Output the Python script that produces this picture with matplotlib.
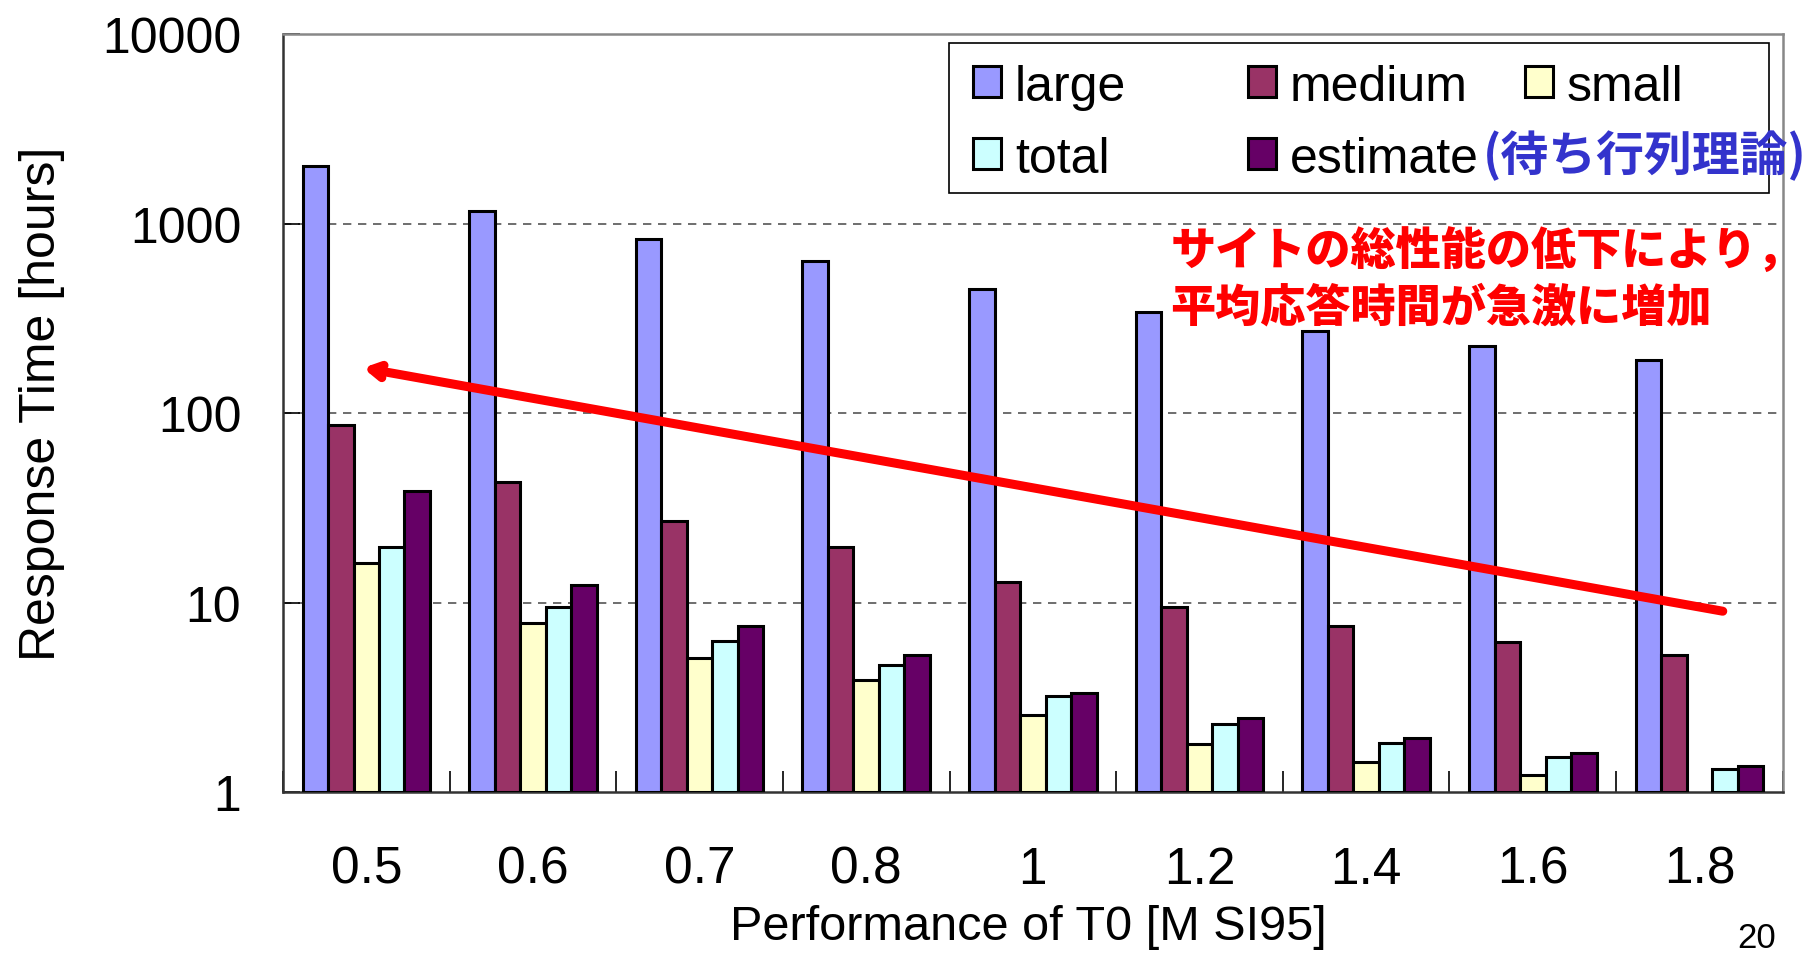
import numpy as np
import matplotlib
matplotlib.use("Agg")
import matplotlib.pyplot as plt
from matplotlib.patches import Rectangle

plt.rcParams['font.family'] = ['Liberation Sans', 'Noto Sans CJK JP', 'DejaVu Sans']

categories = ["0.5", "0.6", "0.7", "0.8", "1", "1.2", "1.4", "1.6", "1.8"]
large = [2000, 1170, 830, 635, 450, 343, 272, 225, 190]
medium = [86, 43, 27, 19.7, 12.9, 9.5, 7.5, 6.2, 5.3]
small = [16.2, 7.8, 5.1, 3.9, 2.55, 1.8, 1.44, 1.23, np.nan]
total = [19.7, 9.5, 6.3, 4.7, 3.2, 2.28, 1.82, 1.54, 1.32]
estimate = [39, 12.4, 7.5, 5.3, 3.33, 2.45, 1.93, 1.61, 1.38]

series = [("large", large, "#9999ff"),
          ("medium", medium, "#993366"),
          ("small", small, "#ffffcc"),
          ("total", total, "#ccffff"),
          ("estimate", estimate, "#660066")]

W, H = 1809, 954
fig = plt.figure(figsize=(W / 100, H / 100), dpi=100)
ax = fig.add_axes([0.1564, 0.1687, 0.8291, 0.7946])

x = np.arange(len(categories))
w = 0.153
for i, (name, vals, col) in enumerate(series):
    v = np.array(vals, dtype=float)
    ax.bar(x + (i - 2) * w, v - 1, width=w, bottom=1, color=col,
           edgecolor="black", linewidth=2.2, zorder=3)

ax.set_yscale("log")
ax.set_ylim(1, 10000)
ax.set_xlim(-0.5, len(categories) - 0.5)
ax.set_yticks([1, 10, 100, 1000, 10000])
ax.set_yticklabels(["1", "10", "100", "1000", "10000"])
ax.yaxis.set_minor_locator(matplotlib.ticker.NullLocator())
ax.tick_params(axis="y", direction="in", length=12, width=1.2, labelsize=36, pad=30)
for yv in [10, 100, 1000]:
    ax.axhline(yv, color="#555555", lw=1.2, ls=(0, (5, 4)), zorder=1)

ax.set_xticks(x)
ax.set_xticklabels(categories)
ax.tick_params(axis="x", length=0, labelsize=37, pad=38)
ax.set_xticks(np.arange(len(categories) + 1) - 0.5, minor=True)
ax.tick_params(axis="x", which="minor", direction="in", length=15, width=1.2)

for s in ["left", "bottom"]:
    ax.spines[s].set_color("#333333")
    ax.spines[s].set_linewidth(1.8)
for s in ["top", "right"]:
    ax.spines[s].set_color("#888888")
    ax.spines[s].set_linewidth(1.8)

ax.set_ylabel("Response Time [hours]", fontsize=36)
ax.yaxis.set_label_coords(-0.145, 0.514)
ax.set_xlabel("Performance of T0 [M SI95]", fontsize=35)
ax.xaxis.set_label_coords(0.497, -0.148)

# legend drawn by hand (Excel-style equal column widths), pixel positions
def fx(px):
    return px / W

def fy(py):
    return 1 - py / H

fig.patches.append(Rectangle((fx(949), fy(194)), fx(1769) - fx(949), fy(44) - fy(194),
                             transform=fig.transFigure, facecolor="white",
                             edgecolor="black", linewidth=1.2, zorder=5))
col_x = [973, 1248, 1525]
row_y = [83, 155]
slots = [(0, 0), (0, 1), (0, 2), (1, 0), (1, 1)]
for k, (r, c) in enumerate(slots):
    name, _, col = series[k]
    fig.patches.append(Rectangle((fx(col_x[c]), fy(row_y[r] + 15)), fx(28), 31 / H,
                                 transform=fig.transFigure, facecolor=col,
                                 edgecolor="black", linewidth=2.2, zorder=6))
    fig.text(fx(col_x[c] + 42), fy(row_y[r]), name, fontsize=36,
             va="center_baseline", ha="left", zorder=7)

fig.text(0.8195, fy(156), "(待ち行列理論)", fontsize=34.5, color="#3333cc",
         weight="bold", va="center", ha="left", zorder=8,
         family=["Noto Sans CJK JP", "DejaVu Sans"])

fig.text(0.647, 0.707, "サイトの総性能の低下により，\n平均応答時間が急激に増加",
         fontsize=32.5, color="#ff0000", weight="heavy", va="center", ha="left",
         linespacing=1.33, family=["Noto Sans CJK JP", "DejaVu Sans"])

# trend arrow
ax.annotate("", xy=(-0.02, 173), xytext=(8.14, 9.0),
            arrowprops=dict(arrowstyle="->,head_length=0.8,head_width=0.45",
                            color="#ff0000", lw=6.5, capstyle="round",
                            joinstyle="round", shrinkA=0, shrinkB=0),
            zorder=6)

fig.text(0.971, 0.006, "20", fontsize=25, ha="center", va="baseline")

fig.savefig("out.png", dpi=100)
